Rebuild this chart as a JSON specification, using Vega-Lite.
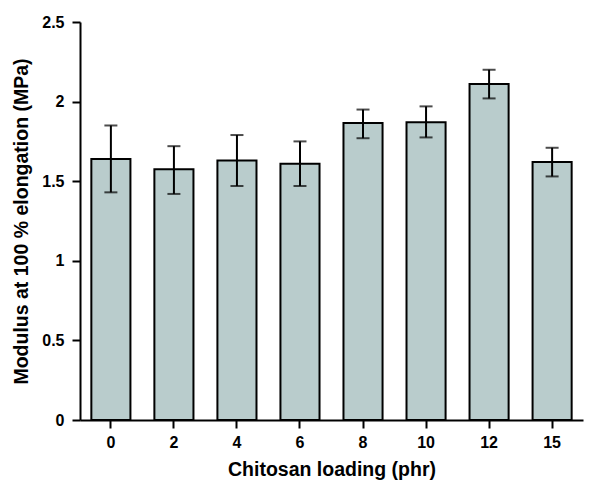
{
  "$schema": "https://vega.github.io/schema/vega-lite/v6.json",
  "autosize": "none",
  "width": 503,
  "height": 398,
  "padding": {"left": 80, "top": 22, "right": 17, "bottom": 64},
  "background": "white",
  "config": {
    "view": {"stroke": null},
    "font": "Liberation Sans",
    "axis": {"grid": false, "domainColor": "black", "domainWidth": 2, "tickColor": "black", "tickWidth": 2, "tickSize": 8, "labelColor": "black", "labelFont": "Liberation Sans", "labelFontWeight": "bold", "labelFontSize": 16, "titleFont": "Liberation Sans", "titleFontWeight": "bold", "titleFontSize": 19.5, "titleColor": "black"}
  },
  "data": {
    "values": [
      {"loading": "0", "modulus": 1.64, "lo": 1.43, "hi": 1.85},
      {"loading": "2", "modulus": 1.575, "lo": 1.42, "hi": 1.72},
      {"loading": "4", "modulus": 1.63, "lo": 1.47, "hi": 1.79},
      {"loading": "6", "modulus": 1.61, "lo": 1.47, "hi": 1.75},
      {"loading": "8", "modulus": 1.865, "lo": 1.77, "hi": 1.95},
      {"loading": "10", "modulus": 1.87, "lo": 1.775, "hi": 1.97},
      {"loading": "12", "modulus": 2.11, "lo": 2.02, "hi": 2.2},
      {"loading": "15", "modulus": 1.62, "lo": 1.53, "hi": 1.71}
    ]
  },
  "encoding": {
    "x": {
      "field": "loading", "type": "ordinal", "sort": null,
      "scale": {"paddingInner": 0.38, "paddingOuter": 0.18},
      "axis": {"title": "Chitosan loading (phr)", "labelAngle": 0, "labelPadding": 6, "titlePadding": 10}
    }
  },
  "layer": [
    {
      "mark": {"type": "bar", "fill": "#b9cccc", "stroke": "black", "strokeWidth": 2},
      "encoding": {
        "y": {
          "field": "modulus", "type": "quantitative",
          "scale": {"domain": [0, 2.5], "nice": false},
          "axis": {"title": "Modulus at 100 % elongation (MPa)", "values": [0, 0.5, 1, 1.5, 2, 2.5], "format": "~g", "labelPadding": 8, "titlePadding": 10}
        }
      }
    },
    {
      "mark": {"type": "rule", "color": "black", "strokeWidth": 2},
      "encoding": {"y": {"field": "lo", "type": "quantitative"}, "y2": {"field": "hi"}}
    },
    {
      "mark": {"type": "tick", "color": "black", "thickness": 2, "size": 13},
      "encoding": {"y": {"field": "lo", "type": "quantitative"}}
    },
    {
      "mark": {"type": "tick", "color": "black", "thickness": 2, "size": 13},
      "encoding": {"y": {"field": "hi", "type": "quantitative"}}
    }
  ]
}
